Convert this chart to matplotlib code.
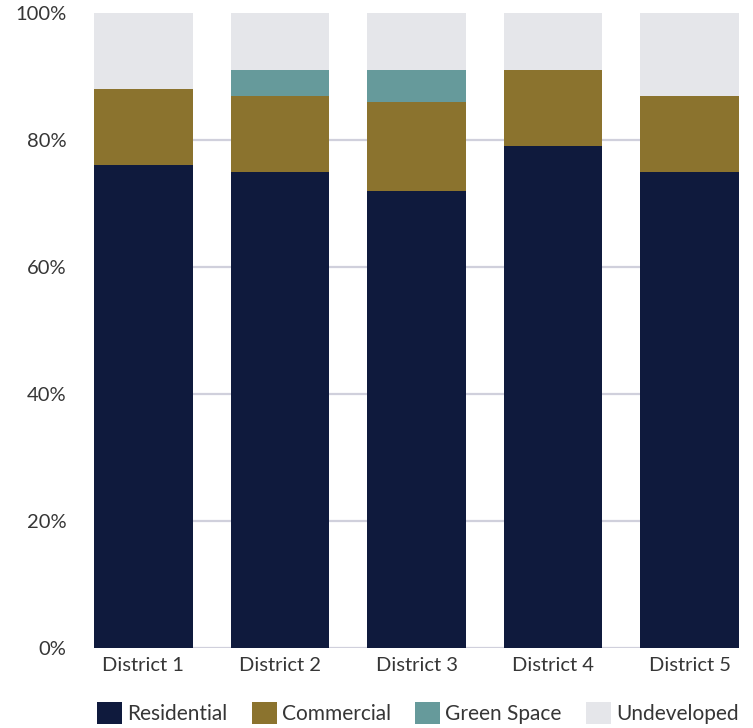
import matplotlib
matplotlib.use("Agg")
import matplotlib.pyplot as plt
import numpy as np

# Land-use share per district (percent)
districts = ["District 1", "District 2", "District 3", "District 4", "District 5"]
residential = [76, 75, 72, 79, 75]
commercial = [12, 12, 14, 12, 12]
green_space = [0, 4, 5, 0, 0]
undeveloped = [12, 9, 9, 9, 13]

series = [
    ("Residential", residential, "#0F1A3D"),
    ("Commercial", commercial, "#8B732E"),
    ("Green Space", green_space, "#669A9B"),
    ("Undeveloped", undeveloped, "#E5E6EA"),
]

plt.rcParams["font.family"] = ["Lato", "DejaVu Sans"]

fig = plt.figure(figsize=(7.53, 7.28), dpi=100)
ax = fig.add_axes([94 / 753, 1 - 647.7 / 728, (739 - 94) / 753, (647.7 - 13) / 728])

x = np.arange(len(districts))
width = 0.724
bottom = np.zeros(len(districts))
handles = []
for name, vals, color in series:
    vals = np.array(vals, dtype=float)
    b = ax.bar(x, vals, width, bottom=bottom, color=color, label=name, zorder=2)
    handles.append(b)
    bottom += vals

ax.set_xlim(-width / 2, len(districts) - 1 + width / 2)
ax.set_ylim(0, 100)
ticks = [0, 20, 40, 60, 80, 100]
ax.set_yticks(ticks)
ax.set_yticklabels([f"{v}%" for v in ticks])
ax.set_xticks(x)
ax.set_xticklabels(districts)

ax.grid(axis="y", color="#D0D0DC", linewidth=1.6, zorder=0)
ax.yaxis.get_gridlines()[-1].set_visible(False)
ax.set_axisbelow(True)
for s in ax.spines.values():
    s.set_visible(False)
ax.tick_params(axis="y", length=0, pad=20, labelsize=14.5, labelcolor="#363636")
ax.tick_params(axis="x", length=0, pad=7, labelsize=14.5, labelcolor="#363636")

fig.legend(
    handles=handles,
    labels=[s[0] for s in series],
    loc="center",
    bbox_to_anchor=(0.555, 1 - 713 / 728),
    ncol=4,
    frameon=False,
    fontsize=15,
    handlelength=1.2,
    handleheight=1.2,
    handletextpad=0.25,
    columnspacing=1.17,
    labelcolor="#363636",
)

fig.savefig("out.png", dpi=100)
